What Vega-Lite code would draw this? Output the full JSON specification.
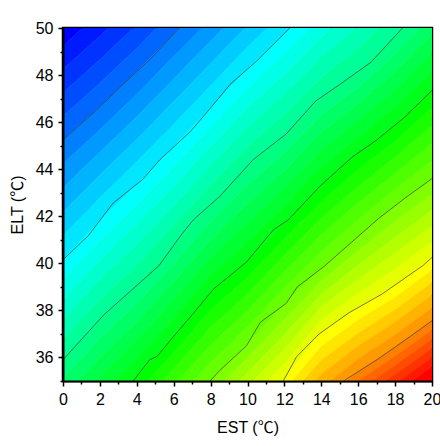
{
"$schema":"https://vega.github.io/schema/vega-lite/v6.json",
"width":369,"height":353,
"autosize":{"type":"none"},
"padding":{"left":63,"top":28,"right":8,"bottom":65},
"config":{"view":{"stroke":"#000","strokeWidth":2.5}},
"resolve":{"axis":{"x":"independent","y":"independent"}},
"layer":[
{
"data":{"values":[
{"k":0,"x":0,"y":80},{"k":0,"x":2,"y":80},{"k":0,"x":4,"y":80},{"k":0,"x":6,"y":80},{"k":0,"x":8,"y":80},{"k":0,"x":10,"y":80},{"k":0,"x":12,"y":80},{"k":0,"x":14,"y":80},{"k":0,"x":16,"y":80},{"k":0,"x":18,"y":80},{"k":0,"x":20,"y":80},
{"k":1,"x":0,"y":49.25},{"k":1,"x":2,"y":50.65},{"k":1,"x":4,"y":52.14},{"k":1,"x":6,"y":53.75},{"k":1,"x":8,"y":55.33},{"k":1,"x":10,"y":56.9},{"k":1,"x":12,"y":58.45},{"k":1,"x":14,"y":60.0},{"k":1,"x":16,"y":61.6},{"k":1,"x":18,"y":63.1},{"k":1,"x":20,"y":64.7},
{"k":2,"x":0,"y":48.25},{"k":2,"x":2,"y":49.65},{"k":2,"x":4,"y":51.14},{"k":2,"x":6,"y":52.75},{"k":2,"x":8,"y":54.33},{"k":2,"x":10,"y":55.9},{"k":2,"x":12,"y":57.45},{"k":2,"x":14,"y":59.0},{"k":2,"x":16,"y":60.6},{"k":2,"x":18,"y":62.1},{"k":2,"x":20,"y":63.7},
{"k":3,"x":0,"y":47.25},{"k":3,"x":2,"y":48.65},{"k":3,"x":4,"y":50.14},{"k":3,"x":6,"y":51.75},{"k":3,"x":8,"y":53.33},{"k":3,"x":10,"y":54.9},{"k":3,"x":12,"y":56.45},{"k":3,"x":14,"y":58.0},{"k":3,"x":16,"y":59.6},{"k":3,"x":18,"y":61.1},{"k":3,"x":20,"y":62.7},
{"k":4,"x":0,"y":46.25},{"k":4,"x":2,"y":47.65},{"k":4,"x":4,"y":49.14},{"k":4,"x":6,"y":50.75},{"k":4,"x":8,"y":52.33},{"k":4,"x":10,"y":53.9},{"k":4,"x":12,"y":55.45},{"k":4,"x":14,"y":57.0},{"k":4,"x":16,"y":58.6},{"k":4,"x":18,"y":60.1},{"k":4,"x":20,"y":61.7},
{"k":5,"x":0,"y":45.25},{"k":5,"x":2,"y":46.65},{"k":5,"x":4,"y":48.14},{"k":5,"x":6,"y":49.75},{"k":5,"x":8,"y":51.33},{"k":5,"x":10,"y":52.9},{"k":5,"x":12,"y":54.45},{"k":5,"x":14,"y":56.0},{"k":5,"x":16,"y":57.6},{"k":5,"x":18,"y":59.1},{"k":5,"x":20,"y":60.7},
{"k":6,"x":0,"y":44.23},{"k":6,"x":2,"y":45.68},{"k":6,"x":4,"y":47.18},{"k":6,"x":6,"y":48.79},{"k":6,"x":8,"y":50.38},{"k":6,"x":10,"y":51.97},{"k":6,"x":12,"y":53.51},{"k":6,"x":14,"y":55.07},{"k":6,"x":16,"y":56.66},{"k":6,"x":18,"y":58.17},{"k":6,"x":20,"y":59.76},
{"k":7,"x":0,"y":43.21},{"k":7,"x":2,"y":44.72},{"k":7,"x":4,"y":46.23},{"k":7,"x":6,"y":47.83},{"k":7,"x":8,"y":49.44},{"k":7,"x":10,"y":51.04},{"k":7,"x":12,"y":52.58},{"k":7,"x":14,"y":54.13},{"k":7,"x":16,"y":55.72},{"k":7,"x":18,"y":57.24},{"k":7,"x":20,"y":58.82},
{"k":8,"x":0,"y":42.19},{"k":8,"x":2,"y":43.75},{"k":8,"x":4,"y":45.27},{"k":8,"x":6,"y":46.87},{"k":8,"x":8,"y":48.49},{"k":8,"x":10,"y":50.12},{"k":8,"x":12,"y":51.64},{"k":8,"x":14,"y":53.2},{"k":8,"x":16,"y":54.78},{"k":8,"x":18,"y":56.31},{"k":8,"x":20,"y":57.88},
{"k":9,"x":0,"y":41.17},{"k":9,"x":2,"y":42.79},{"k":9,"x":4,"y":44.32},{"k":9,"x":6,"y":45.91},{"k":9,"x":8,"y":47.55},{"k":9,"x":10,"y":49.19},{"k":9,"x":12,"y":50.71},{"k":9,"x":14,"y":52.26},{"k":9,"x":16,"y":53.84},{"k":9,"x":18,"y":55.38},{"k":9,"x":20,"y":56.94},
{"k":10,"x":0,"y":40.15},{"k":10,"x":2,"y":41.82},{"k":10,"x":4,"y":43.36},{"k":10,"x":6,"y":44.95},{"k":10,"x":8,"y":46.6},{"k":10,"x":10,"y":48.26},{"k":10,"x":12,"y":49.77},{"k":10,"x":14,"y":51.33},{"k":10,"x":16,"y":52.9},{"k":10,"x":18,"y":54.45},{"k":10,"x":20,"y":56.0},
{"k":11,"x":0,"y":39.3},{"k":11,"x":2,"y":40.98},{"k":11,"x":4,"y":42.5},{"k":11,"x":6,"y":44.11},{"k":11,"x":8,"y":45.78},{"k":11,"x":10,"y":47.44},{"k":11,"x":12,"y":48.9},{"k":11,"x":14,"y":50.48},{"k":11,"x":16,"y":51.95},{"k":11,"x":18,"y":53.49},{"k":11,"x":20,"y":55.06},
{"k":12,"x":0,"y":38.45},{"k":12,"x":2,"y":40.14},{"k":12,"x":4,"y":41.64},{"k":12,"x":6,"y":43.28},{"k":12,"x":8,"y":44.96},{"k":12,"x":10,"y":46.61},{"k":12,"x":12,"y":48.04},{"k":12,"x":14,"y":49.62},{"k":12,"x":16,"y":51.0},{"k":12,"x":18,"y":52.53},{"k":12,"x":20,"y":54.11},
{"k":13,"x":0,"y":37.6},{"k":13,"x":2,"y":39.31},{"k":13,"x":4,"y":40.78},{"k":13,"x":6,"y":42.44},{"k":13,"x":8,"y":44.14},{"k":13,"x":10,"y":45.79},{"k":13,"x":12,"y":47.17},{"k":13,"x":14,"y":48.77},{"k":13,"x":16,"y":50.06},{"k":13,"x":18,"y":51.58},{"k":13,"x":20,"y":53.17},
{"k":14,"x":0,"y":36.75},{"k":14,"x":2,"y":38.47},{"k":14,"x":4,"y":39.92},{"k":14,"x":6,"y":41.61},{"k":14,"x":8,"y":43.32},{"k":14,"x":10,"y":44.96},{"k":14,"x":12,"y":46.31},{"k":14,"x":14,"y":47.91},{"k":14,"x":16,"y":49.11},{"k":14,"x":18,"y":50.62},{"k":14,"x":20,"y":52.22},
{"k":15,"x":0,"y":35.9},{"k":15,"x":2,"y":37.63},{"k":15,"x":4,"y":39.06},{"k":15,"x":6,"y":40.77},{"k":15,"x":8,"y":42.5},{"k":15,"x":10,"y":44.14},{"k":15,"x":12,"y":45.44},{"k":15,"x":14,"y":47.06},{"k":15,"x":16,"y":48.16},{"k":15,"x":18,"y":49.66},{"k":15,"x":20,"y":51.28},
{"k":16,"x":0,"y":35.11},{"k":16,"x":2,"y":36.82},{"k":16,"x":4,"y":38.29},{"k":16,"x":6,"y":40.0},{"k":16,"x":8,"y":41.75},{"k":16,"x":10,"y":43.33},{"k":16,"x":12,"y":44.7},{"k":16,"x":14,"y":46.31},{"k":16,"x":16,"y":47.47},{"k":16,"x":18,"y":48.9},{"k":16,"x":20,"y":50.49},
{"k":17,"x":0,"y":34.32},{"k":17,"x":2,"y":36.0},{"k":17,"x":4,"y":37.52},{"k":17,"x":6,"y":39.22},{"k":17,"x":8,"y":41.0},{"k":17,"x":10,"y":42.53},{"k":17,"x":12,"y":43.96},{"k":17,"x":14,"y":45.57},{"k":17,"x":16,"y":46.77},{"k":17,"x":18,"y":48.15},{"k":17,"x":20,"y":49.71},
{"k":18,"x":0,"y":33.54},{"k":18,"x":2,"y":35.19},{"k":18,"x":4,"y":36.74},{"k":18,"x":6,"y":38.45},{"k":18,"x":8,"y":40.26},{"k":18,"x":10,"y":41.72},{"k":18,"x":12,"y":43.21},{"k":18,"x":14,"y":44.82},{"k":18,"x":16,"y":46.08},{"k":18,"x":18,"y":47.39},{"k":18,"x":20,"y":48.92},
{"k":19,"x":0,"y":32.75},{"k":19,"x":2,"y":34.37},{"k":19,"x":4,"y":35.97},{"k":19,"x":6,"y":37.67},{"k":19,"x":8,"y":39.51},{"k":19,"x":10,"y":40.92},{"k":19,"x":12,"y":42.47},{"k":19,"x":14,"y":44.08},{"k":19,"x":16,"y":45.38},{"k":19,"x":18,"y":46.64},{"k":19,"x":20,"y":48.14},
{"k":20,"x":0,"y":31.96},{"k":20,"x":2,"y":33.56},{"k":20,"x":4,"y":35.2},{"k":20,"x":6,"y":36.9},{"k":20,"x":8,"y":38.76},{"k":20,"x":10,"y":40.11},{"k":20,"x":12,"y":41.73},{"k":20,"x":14,"y":43.33},{"k":20,"x":16,"y":44.69},{"k":20,"x":18,"y":45.88},{"k":20,"x":20,"y":47.35},
{"k":21,"x":0,"y":31.29},{"k":21,"x":2,"y":32.89},{"k":21,"x":4,"y":34.52},{"k":21,"x":6,"y":36.2},{"k":21,"x":8,"y":38.01},{"k":21,"x":10,"y":39.4},{"k":21,"x":12,"y":41.03},{"k":21,"x":14,"y":42.62},{"k":21,"x":16,"y":43.98},{"k":21,"x":18,"y":45.19},{"k":21,"x":20,"y":46.6},
{"k":22,"x":0,"y":30.62},{"k":22,"x":2,"y":32.22},{"k":22,"x":4,"y":33.85},{"k":22,"x":6,"y":35.51},{"k":22,"x":8,"y":37.27},{"k":22,"x":10,"y":38.69},{"k":22,"x":12,"y":40.33},{"k":22,"x":14,"y":41.91},{"k":22,"x":16,"y":43.27},{"k":22,"x":18,"y":44.51},{"k":22,"x":20,"y":45.85},
{"k":23,"x":0,"y":29.96},{"k":23,"x":2,"y":31.56},{"k":23,"x":4,"y":33.17},{"k":23,"x":6,"y":34.81},{"k":23,"x":8,"y":36.52},{"k":23,"x":10,"y":37.99},{"k":23,"x":12,"y":39.64},{"k":23,"x":14,"y":41.2},{"k":23,"x":16,"y":42.56},{"k":23,"x":18,"y":43.82},{"k":23,"x":20,"y":45.1},
{"k":24,"x":0,"y":29.29},{"k":24,"x":2,"y":30.89},{"k":24,"x":4,"y":32.5},{"k":24,"x":6,"y":34.12},{"k":24,"x":8,"y":35.78},{"k":24,"x":10,"y":37.28},{"k":24,"x":12,"y":38.94},{"k":24,"x":14,"y":40.49},{"k":24,"x":16,"y":41.85},{"k":24,"x":18,"y":43.14},{"k":24,"x":20,"y":44.35},
{"k":25,"x":0,"y":28.62},{"k":25,"x":2,"y":30.22},{"k":25,"x":4,"y":31.82},{"k":25,"x":6,"y":33.42},{"k":25,"x":8,"y":35.03},{"k":25,"x":10,"y":36.57},{"k":25,"x":12,"y":38.24},{"k":25,"x":14,"y":39.78},{"k":25,"x":16,"y":41.14},{"k":25,"x":18,"y":42.45},{"k":25,"x":20,"y":43.6},
{"k":26,"x":0,"y":28.11},{"k":26,"x":2,"y":29.69},{"k":26,"x":4,"y":31.27},{"k":26,"x":6,"y":32.85},{"k":26,"x":8,"y":34.43},{"k":26,"x":10,"y":35.97},{"k":26,"x":12,"y":37.61},{"k":26,"x":14,"y":39.24},{"k":26,"x":16,"y":40.54},{"k":26,"x":18,"y":41.78},{"k":26,"x":20,"y":42.93},
{"k":27,"x":0,"y":27.59},{"k":27,"x":2,"y":29.15},{"k":27,"x":4,"y":30.71},{"k":27,"x":6,"y":32.27},{"k":27,"x":8,"y":33.84},{"k":27,"x":10,"y":35.36},{"k":27,"x":12,"y":36.98},{"k":27,"x":14,"y":38.69},{"k":27,"x":16,"y":39.93},{"k":27,"x":18,"y":41.1},{"k":27,"x":20,"y":42.26},
{"k":28,"x":0,"y":27.08},{"k":28,"x":2,"y":28.62},{"k":28,"x":4,"y":30.16},{"k":28,"x":6,"y":31.7},{"k":28,"x":8,"y":33.24},{"k":28,"x":10,"y":34.76},{"k":28,"x":12,"y":36.35},{"k":28,"x":14,"y":38.15},{"k":28,"x":16,"y":39.33},{"k":28,"x":18,"y":40.43},{"k":28,"x":20,"y":41.59},
{"k":29,"x":0,"y":26.56},{"k":29,"x":2,"y":28.08},{"k":29,"x":4,"y":29.6},{"k":29,"x":6,"y":31.12},{"k":29,"x":8,"y":32.65},{"k":29,"x":10,"y":34.15},{"k":29,"x":12,"y":35.72},{"k":29,"x":14,"y":37.6},{"k":29,"x":16,"y":38.72},{"k":29,"x":18,"y":39.75},{"k":29,"x":20,"y":40.92},
{"k":30,"x":0,"y":26.05},{"k":30,"x":2,"y":27.55},{"k":30,"x":4,"y":29.05},{"k":30,"x":6,"y":30.55},{"k":30,"x":8,"y":32.05},{"k":30,"x":10,"y":33.55},{"k":30,"x":12,"y":35.09},{"k":30,"x":14,"y":37.06},{"k":30,"x":16,"y":38.12},{"k":30,"x":18,"y":39.08},{"k":30,"x":20,"y":40.25},
{"k":31,"x":0,"y":25.56},{"k":31,"x":2,"y":27.06},{"k":31,"x":4,"y":28.56},{"k":31,"x":6,"y":30.06},{"k":31,"x":8,"y":31.56},{"k":31,"x":10,"y":33.06},{"k":31,"x":12,"y":34.59},{"k":31,"x":14,"y":36.47},{"k":31,"x":16,"y":37.58},{"k":31,"x":18,"y":38.55},{"k":31,"x":20,"y":39.71},
{"k":32,"x":0,"y":25.07},{"k":32,"x":2,"y":26.57},{"k":32,"x":4,"y":28.07},{"k":32,"x":6,"y":29.57},{"k":32,"x":8,"y":31.07},{"k":32,"x":10,"y":32.57},{"k":32,"x":12,"y":34.09},{"k":32,"x":14,"y":35.88},{"k":32,"x":16,"y":37.03},{"k":32,"x":18,"y":38.02},{"k":32,"x":20,"y":39.17},
{"k":33,"x":0,"y":24.58},{"k":33,"x":2,"y":26.08},{"k":33,"x":4,"y":27.58},{"k":33,"x":6,"y":29.08},{"k":33,"x":8,"y":30.58},{"k":33,"x":10,"y":32.08},{"k":33,"x":12,"y":33.6},{"k":33,"x":14,"y":35.28},{"k":33,"x":16,"y":36.49},{"k":33,"x":18,"y":37.5},{"k":33,"x":20,"y":38.64},
{"k":34,"x":0,"y":24.09},{"k":34,"x":2,"y":25.59},{"k":34,"x":4,"y":27.09},{"k":34,"x":6,"y":28.59},{"k":34,"x":8,"y":30.09},{"k":34,"x":10,"y":31.59},{"k":34,"x":12,"y":33.1},{"k":34,"x":14,"y":34.69},{"k":34,"x":16,"y":35.94},{"k":34,"x":18,"y":36.97},{"k":34,"x":20,"y":38.1},
{"k":35,"x":0,"y":23.6},{"k":35,"x":2,"y":25.1},{"k":35,"x":4,"y":26.6},{"k":35,"x":6,"y":28.1},{"k":35,"x":8,"y":29.6},{"k":35,"x":10,"y":31.1},{"k":35,"x":12,"y":32.6},{"k":35,"x":14,"y":34.1},{"k":35,"x":16,"y":35.4},{"k":35,"x":18,"y":36.44},{"k":35,"x":20,"y":37.56},
{"k":36,"x":0,"y":23.2},{"k":36,"x":2,"y":24.7},{"k":36,"x":4,"y":26.2},{"k":36,"x":6,"y":27.7},{"k":36,"x":8,"y":29.2},{"k":36,"x":10,"y":30.7},{"k":36,"x":12,"y":32.2},{"k":36,"x":14,"y":33.7},{"k":36,"x":16,"y":35.0},{"k":36,"x":18,"y":36.05},{"k":36,"x":20,"y":37.17},
{"k":37,"x":0,"y":22.8},{"k":37,"x":2,"y":24.3},{"k":37,"x":4,"y":25.8},{"k":37,"x":6,"y":27.3},{"k":37,"x":8,"y":28.8},{"k":37,"x":10,"y":30.3},{"k":37,"x":12,"y":31.8},{"k":37,"x":14,"y":33.3},{"k":37,"x":16,"y":34.6},{"k":37,"x":18,"y":35.66},{"k":37,"x":20,"y":36.78},
{"k":38,"x":0,"y":22.4},{"k":38,"x":2,"y":23.9},{"k":38,"x":4,"y":25.4},{"k":38,"x":6,"y":26.9},{"k":38,"x":8,"y":28.4},{"k":38,"x":10,"y":29.9},{"k":38,"x":12,"y":31.4},{"k":38,"x":14,"y":32.9},{"k":38,"x":16,"y":34.2},{"k":38,"x":18,"y":35.28},{"k":38,"x":20,"y":36.38},
{"k":39,"x":0,"y":22.0},{"k":39,"x":2,"y":23.5},{"k":39,"x":4,"y":25.0},{"k":39,"x":6,"y":26.5},{"k":39,"x":8,"y":28.0},{"k":39,"x":10,"y":29.5},{"k":39,"x":12,"y":31.0},{"k":39,"x":14,"y":32.5},{"k":39,"x":16,"y":33.8},{"k":39,"x":18,"y":34.89},{"k":39,"x":20,"y":35.99},
{"k":40,"x":0,"y":21.6},{"k":40,"x":2,"y":23.1},{"k":40,"x":4,"y":24.6},{"k":40,"x":6,"y":26.1},{"k":40,"x":8,"y":27.6},{"k":40,"x":10,"y":29.1},{"k":40,"x":12,"y":30.6},{"k":40,"x":14,"y":32.1},{"k":40,"x":16,"y":33.4},{"k":40,"x":18,"y":34.5},{"k":40,"x":20,"y":35.6},
{"k":41,"x":0,"y":10},{"k":41,"x":2,"y":10},{"k":41,"x":4,"y":10},{"k":41,"x":6,"y":10},{"k":41,"x":8,"y":10},{"k":41,"x":10,"y":10},{"k":41,"x":12,"y":10},{"k":41,"x":14,"y":10},{"k":41,"x":16,"y":10},{"k":41,"x":18,"y":10},{"k":41,"x":20,"y":10}
]},
"transform":[
{"window":[{"op":"lead","field":"y","as":"yb"}],"groupby":["x"],"sort":[{"field":"k","order":"ascending"}]},
{"filter":"datum.yb != null"}
],
"mark":{"type":"area","clip":true,"strokeWidth":0.6},
"encoding":{
"x":{"field":"x","type":"quantitative","scale":{"domain":[0,20],"nice":false,"zero":false},
"axis":{"values":[0,2,4,6,8,10,12,14,16,18,20],"title":"EST (℃)","labelFont":"Liberation Sans","labelFontSize":16,"labelColor":"#000","labelPadding":5,"labelFlush":false,"labelOverlap":false,"tickSize":5,"tickWidth":1.5,"tickColor":"#000","domainColor":"#000","domainWidth":2,"titleFont":"Liberation Sans, Noto Sans CJK SC","titleFontSize":16,"titleFontWeight":"normal","titleColor":"#000","titlePadding":12,"grid":false,"zindex":1}},
"y":{"field":"yb","type":"quantitative","stack":null,"scale":{"domain":[35,50],"nice":false,"zero":false},
"axis":{"values":[36,38,40,42,44,46,48,50],"title":"ELT (℃)","labelFont":"Liberation Sans","labelFontSize":16,"labelColor":"#000","labelPadding":5,"labelFlush":false,"labelOverlap":false,"tickSize":5,"tickWidth":1.5,"tickColor":"#000","domainColor":"#000","domainWidth":2,"titleFont":"Liberation Sans, Noto Sans CJK SC","titleFontSize":16,"titleFontWeight":"normal","titleColor":"#000","titlePadding":10,"grid":false,"zindex":1}},
"y2":{"field":"y"},
"color":{"field":"k","type":"quantitative","scale":{"domain":[0,10,20,30,40],"range":["#0000ff","#00ffff","#00ff00","#ffff00","#ff0000"],"interpolate":"rgb"},"legend":null},
"stroke":{"field":"k","type":"quantitative","scale":{"domain":[0,10,20,30,40],"range":["#0000ff","#00ffff","#00ff00","#ffff00","#ff0000"],"interpolate":"rgb"},"legend":null},
"detail":{"field":"k"}
}
},
{
"data":{"values":[
{"c":1,"x":0,"y":45.25},{"c":1,"x":1.8,"y":46.5},{"c":1,"x":3.25,"y":47.6},{"c":1,"x":4.7,"y":48.65},{"c":1,"x":6.3,"y":50},
{"c":2,"x":0,"y":40.15},{"c":2,"x":1.4,"y":41.2},{"c":2,"x":2.7,"y":42.55},{"c":2,"x":4.3,"y":43.55},{"c":2,"x":5.25,"y":44.4},{"c":2,"x":6.9,"y":45.6},{"c":2,"x":8.0,"y":46.6},{"c":2,"x":9.05,"y":47.6},{"c":2,"x":10.5,"y":48.6},{"c":2,"x":12.3,"y":50},
{"c":3,"x":0,"y":35.9},{"c":3,"x":2.2,"y":37.8},{"c":3,"x":5.2,"y":39.9},{"c":3,"x":6.4,"y":41.2},{"c":3,"x":7.06,"y":41.84},{"c":3,"x":8.5,"y":42.85},{"c":3,"x":10.3,"y":44.4},{"c":3,"x":12.1,"y":45.5},{"c":3,"x":13.7,"y":46.9},{"c":3,"x":15.0,"y":47.6},{"c":3,"x":16.7,"y":48.55},{"c":3,"x":18.4,"y":50},
{"c":4,"x":3.8,"y":35},{"c":4,"x":4.7,"y":35.9},{"c":4,"x":5.1,"y":36.05},{"c":4,"x":6.0,"y":36.9},{"c":4,"x":7.06,"y":37.87},{"c":4,"x":8.15,"y":38.9},{"c":4,"x":9.95,"y":40.06},{"c":4,"x":11.4,"y":41.42},{"c":4,"x":12.2,"y":41.84},{"c":4,"x":13.9,"y":43.26},{"c":4,"x":15.7,"y":44.53},{"c":4,"x":17.0,"y":45.24},{"c":4,"x":18.5,"y":46.2},{"c":4,"x":20,"y":47.35},
{"c":5,"x":7.97,"y":35},{"c":5,"x":8.5,"y":35.45},{"c":5,"x":9.95,"y":36.5},{"c":5,"x":10.7,"y":37.5},{"c":5,"x":11.05,"y":37.7},{"c":5,"x":12.1,"y":38.3},{"c":5,"x":12.7,"y":39.0},{"c":5,"x":14.2,"y":39.9},{"c":5,"x":15.5,"y":40.8},{"c":5,"x":17.1,"y":41.9},{"c":5,"x":18.5,"y":42.75},{"c":5,"x":20,"y":43.6},
{"c":6,"x":11.94,"y":35},{"c":6,"x":12.66,"y":36.03},{"c":6,"x":13.85,"y":36.98},{"c":6,"x":15.5,"y":37.9},{"c":6,"x":17.3,"y":38.7},{"c":6,"x":19.5,"y":39.9},{"c":6,"x":20,"y":40.25},
{"c":7,"x":15.2,"y":35},{"c":7,"x":17.05,"y":35.92},{"c":7,"x":18.9,"y":36.94},{"c":7,"x":20,"y":37.56}
]},
"mark":{"type":"line","clip":true,"stroke":"#3c3c3c","strokeWidth":0.7},
"encoding":{
"x":{"field":"x","type":"quantitative","axis":{"values":[1,3,5,7,9,11,13,15,17,19],"orient":"bottom","labels":false,"domain":false,"title":null,"tickSize":3,"tickWidth":1.5,"tickColor":"#000","grid":false,"zindex":1}},
"y":{"field":"y","type":"quantitative","axis":{"values":[35,37,39,41,43,45,47,49],"orient":"left","labels":false,"domain":false,"title":null,"tickSize":3,"tickWidth":1.5,"tickColor":"#000","grid":false,"zindex":1}},
"detail":{"field":"c"}
}
}
]
}
